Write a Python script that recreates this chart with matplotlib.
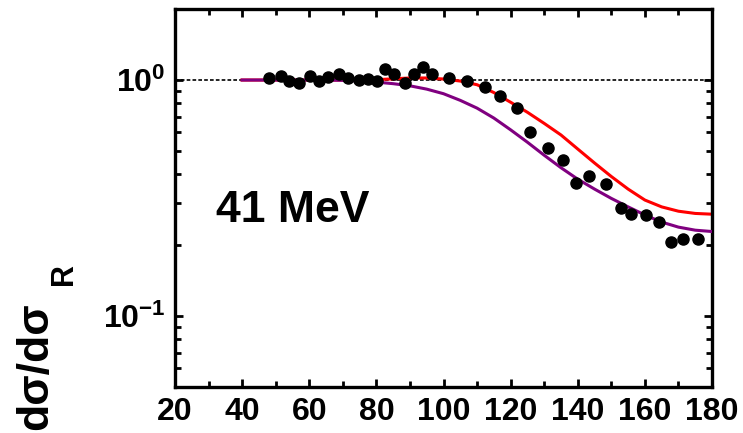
import numpy as np
import matplotlib
matplotlib.use('Agg')
import matplotlib.pyplot as plt
from matplotlib.ticker import FixedLocator, FixedFormatter, MultipleLocator

plt.rcParams['font.family'] = ['Liberation Sans', 'DejaVu Sans']
plt.rcParams['font.weight'] = 'bold'
plt.rcParams['mathtext.fontset'] = 'custom'
plt.rcParams['mathtext.rm'] = 'Liberation Sans:bold'
plt.rcParams['mathtext.bf'] = 'Liberation Sans:bold'
plt.rcParams['mathtext.it'] = 'Liberation Sans:bold'

# measured elastic ratio
theta_exp = [47.9, 51.6, 54.1, 56.9, 60.3, 62.8, 65.7, 68.8, 71.5, 74.7, 77.5, 80.2,
             82.7, 85.3, 88.5, 91.2, 94.0, 96.6, 101.7, 107.1, 112.3, 116.7, 122.0,
             125.8, 131.1, 135.5, 139.6, 143.5, 148.4, 152.8, 156.0, 160.3, 164.1,
             167.7, 171.5, 175.7]
ratio_exp = [1.017, 1.043, 0.990, 0.974, 1.043, 0.990, 1.030, 1.063, 1.023, 0.997,
             1.010, 0.990, 1.110, 1.063, 0.968, 1.063, 1.139, 1.057, 1.017, 0.990,
             0.934, 0.853, 0.759, 0.600, 0.514, 0.459, 0.367, 0.392, 0.364, 0.288,
             0.271, 0.267, 0.251, 0.206, 0.212, 0.211]

# model curves
theta_calc = [40, 45, 50, 55, 60, 65, 70, 75, 80, 85, 90, 95, 100, 105, 110, 115,
              120, 125, 130, 135, 140, 145, 150, 155, 160, 165, 170, 175, 180]
ratio_red = [1.0, 1.0, 1.0, 1.0, 1.0, 1.0, 1.0, 1.0, 1.003, 1.012, 1.02, 1.02, 1.01,
             0.99, 0.955, 0.885, 0.805, 0.73, 0.655, 0.585, 0.51, 0.445, 0.39,
             0.345, 0.31, 0.29, 0.278, 0.272, 0.27]
ratio_purple = [1.0, 1.0, 1.0, 1.0, 1.0, 1.0, 0.997, 0.99, 0.98, 0.965, 0.945, 0.915,
                0.875, 0.82, 0.76, 0.69, 0.615, 0.545, 0.48, 0.425, 0.38, 0.345,
                0.315, 0.29, 0.268, 0.25, 0.238, 0.231, 0.228]

x_ticks = [20, 40, 60, 80, 100, 120, 140, 160, 180]
y_ticks = [0.1, 1.0]
y_labels = [r'$\mathbf{10^{-1}}$', r'$\mathbf{10^{0}}$']

fig = plt.figure(figsize=(7.43, 4.33), dpi=100)
ax = fig.add_axes([175 / 743, 1 - 387 / 433, 537 / 743, 378 / 433])

ax.axhline(1.0, color='black', lw=1.2, ls=(0, (2.2, 1.3)), zorder=1)
ax.plot(theta_calc, ratio_red, color='#ff0000', lw=2.2, zorder=2)
ax.plot(theta_calc, ratio_purple, color='#800080', lw=2.2, zorder=3)
ax.plot(theta_exp, ratio_exp, 'o', color='black', ms=8, zorder=4)

ax.set_yscale('log')
ax.set_xlim(20, 180)
ax.set_ylim(0.05, 2.0)

ax.xaxis.set_major_locator(FixedLocator(x_ticks))
ax.xaxis.set_minor_locator(MultipleLocator(10))
ax.yaxis.set_major_locator(FixedLocator(y_ticks))
ax.yaxis.set_major_formatter(FixedFormatter(y_labels))
ax.yaxis.set_minor_locator(FixedLocator([k * 0.01 for k in range(5, 10)] +
                                        [k * 0.1 for k in range(2, 10)]))
ax.yaxis.set_minor_formatter(FixedFormatter([]))

ax.tick_params(which='both', direction='in', top=True, right=True, width=2)
ax.tick_params(which='major', length=6, labelsize=23, pad=7)
ax.tick_params(which='minor', length=4)
for lab in ax.get_xticklabels():
    lab.set_fontweight('bold')

for sp in ax.spines.values():
    sp.set_linewidth(2.4)

ax.text(32.2, 0.25, '41 MeV', fontsize=32, fontweight='bold', va='baseline')

# y axis title, written by hand so the subscript sits low
fig.text(47 / 743, 3 / 433, 'dσ/dσ', fontsize=32, fontweight='bold',
         rotation=90, rotation_mode='anchor', ha='left', va='baseline')
fig.text(72 / 743, 148 / 433, 'R', fontsize=22, fontweight='bold',
         rotation=90, rotation_mode='anchor', ha='left', va='baseline')

fig.savefig('out.png', dpi=100)
